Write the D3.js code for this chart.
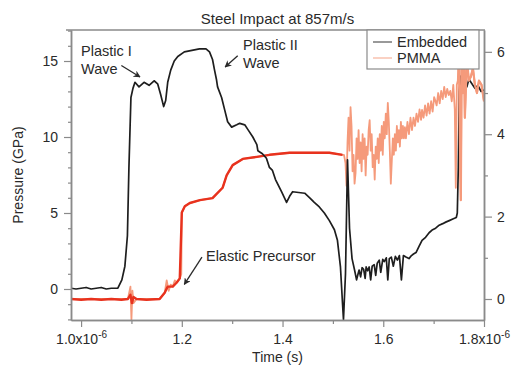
<!DOCTYPE html>
<html>
<head>
<meta charset="utf-8">
<script src="https://cdn.jsdelivr.net/npm/d3@7/dist/d3.min.js"></script>
<style>
  html, body { margin: 0; padding: 0; background: #fff; }
  svg { display: block; font-family: "Liberation Sans", Arial, Helvetica, sans-serif; }
</style>
</head>
<body>
<svg id="chart" width="515" height="365"></svg>
<script>
// Samples are [time (10^-6 s), value].
// Embedded gauge pressure, GPa (left axis)
const embedded = [
  [0.980, 0.05], [0.990, 0.0], [1.000, 0.05], [1.010, 0.1], [1.020, 0.0], [1.030, 0.05], [1.040, 0.1], [1.050, 0.0],
  [1.060, 0.05], [1.073, 0.05], [1.081, 0.6], [1.087, 1.5], [1.092, 3.5], [1.095, 8.0], [1.099, 12.6], [1.103, 13.2],
  [1.107, 13.6], [1.115, 13.3], [1.125, 13.6], [1.135, 13.4], [1.145, 13.7], [1.152, 13.5], [1.158, 12.8], [1.164, 12.0],
  [1.168, 12.4], [1.172, 13.6], [1.178, 14.4], [1.185, 15.0], [1.192, 15.3], [1.205, 15.6], [1.220, 15.7], [1.235, 15.8],
  [1.248, 15.8], [1.255, 15.6], [1.261, 15.1], [1.265, 14.4], [1.269, 13.75], [1.271, 13.3], [1.279, 12.6], [1.285, 11.8],
  [1.291, 11.0], [1.299, 10.65], [1.309, 10.8], [1.315, 10.9], [1.325, 10.8], [1.331, 10.5], [1.341, 10.0], [1.349, 9.5],
  [1.351, 9.1], [1.360, 8.9], [1.368, 8.6], [1.374, 8.0], [1.380, 7.8], [1.386, 7.2], [1.398, 6.4], [1.408, 5.7],
  [1.414, 6.1], [1.420, 6.4], [1.432, 6.35], [1.444, 6.3], [1.454, 6.0], [1.463, 5.7], [1.473, 5.4], [1.483, 5.0],
  [1.493, 4.5], [1.503, 3.9], [1.509, 3.2], [1.515, 1.45], [1.519, -0.9], [1.521, -2.0], [1.525, 1.0], [1.529, 8.5],
  [1.533, 4.0], [1.538, 2.0], [1.543, 1.25], [1.547, 0.6], [1.550, 1.0], [1.552, 1.25], [1.555, 0.8], [1.558, 1.4],
  [1.561, 1.3], [1.564, 0.7], [1.566, 1.45], [1.569, 1.2], [1.572, 1.45], [1.575, 0.6], [1.578, 1.5], [1.582, 1.6],
  [1.585, 0.9], [1.588, 1.7], [1.592, 1.9], [1.595, 1.1], [1.599, 1.95], [1.602, 1.8], [1.606, 2.05], [1.609, 0.6],
  [1.612, 2.0], [1.616, 2.1], [1.620, 1.5], [1.624, 2.15], [1.628, 1.9], [1.632, 2.2], [1.636, 0.6], [1.640, 2.2],
  [1.645, 2.1], [1.651, 2.0], [1.656, 2.2], [1.660, 2.3], [1.665, 2.4], [1.671, 2.8], [1.677, 3.2], [1.684, 3.4],
  [1.691, 3.7], [1.698, 3.9], [1.704, 4.0], [1.711, 4.2], [1.718, 4.3], [1.724, 4.4], [1.731, 4.5], [1.738, 4.6],
  [1.745, 4.7], [1.747, 5.0], [1.749, 8.0], [1.751, 13.0], [1.754, 14.0], [1.758, 13.6], [1.762, 14.1], [1.766, 13.3],
  [1.770, 13.8], [1.776, 13.5], [1.782, 13.2], [1.788, 13.4], [1.794, 13.0], [1.800, 13.1]
];

// PMMA gauge, smoothed trace (right axis)
const pmmaSmooth = [
  [0.980, 0.0], [1.000, -0.02], [1.020, 0.0], [1.040, -0.02], [1.060, 0.0], [1.080, -0.02], [1.093, 0.0], [1.098, 0.1],
  [1.101, -0.1], [1.104, 0.05], [1.110, 0.0], [1.130, -0.02], [1.156, 0.0], [1.166, 0.15], [1.172, 0.3], [1.182, 0.3],
  [1.190, 0.4], [1.196, 0.5], [1.200, 2.1], [1.206, 2.25], [1.216, 2.33], [1.236, 2.4], [1.261, 2.45], [1.281, 2.7],
  [1.289, 3.0], [1.301, 3.25], [1.321, 3.4], [1.349, 3.45], [1.374, 3.5], [1.414, 3.55], [1.454, 3.55], [1.493, 3.55],
  [1.519, 3.5]
];

// PMMA gauge, raw trace (right axis)
const pmmaRaw = [
  [0.980, 0.0], [1.093, 0.0], [1.098, 0.3], [1.100, -0.5], [1.102, 0.2], [1.104, -0.1], [1.110, 0.0], [1.156, 0.0],
  [1.166, 0.15], [1.170, 0.45], [1.174, 0.2], [1.178, 0.35], [1.182, 0.3], [1.186, 0.45], [1.190, 0.4], [1.196, 0.5],
  [1.199, 0.6], [1.200, 2.1], [1.206, 2.25], [1.216, 2.33], [1.236, 2.4], [1.261, 2.45], [1.281, 2.7], [1.289, 3.0],
  [1.301, 3.25], [1.321, 3.4], [1.349, 3.45], [1.374, 3.5], [1.414, 3.55], [1.454, 3.55], [1.493, 3.55], [1.519, 3.5],
  [1.522, 3.5], [1.525, 3.3], [1.527, 2.75], [1.529, 3.8], [1.531, 4.4], [1.533, 3.6], [1.535, 4.66], [1.537, 4.2],
  [1.539, 3.1], [1.541, 3.5], [1.543, 2.8], [1.545, 3.06], [1.547, 3.9], [1.549, 3.4], [1.551, 4.1], [1.553, 3.3],
  [1.555, 3.8], [1.557, 3.1], [1.559, 4.0], [1.561, 3.4], [1.563, 3.9], [1.565, 3.0], [1.567, 3.7], [1.569, 3.5],
  [1.571, 4.1], [1.573, 4.34], [1.575, 3.6], [1.577, 4.0], [1.579, 3.2], [1.581, 3.5], [1.583, 2.9], [1.585, 3.7],
  [1.587, 3.4], [1.589, 3.9], [1.591, 3.3], [1.593, 4.0], [1.595, 3.6], [1.597, 4.2], [1.599, 3.5], [1.601, 4.3],
  [1.603, 3.9], [1.605, 4.5], [1.607, 4.0], [1.609, 4.76], [1.611, 4.3], [1.613, 3.6], [1.615, 2.8], [1.617, 3.37],
  [1.619, 3.9], [1.621, 3.5], [1.623, 4.0], [1.625, 3.6], [1.627, 4.2], [1.629, 3.8], [1.631, 4.1], [1.633, 3.7],
  [1.635, 4.3], [1.637, 3.9], [1.639, 4.2], [1.641, 3.9], [1.643, 4.17], [1.645, 3.9], [1.648, 4.3], [1.651, 4.0],
  [1.654, 4.4], [1.657, 4.1], [1.660, 4.4], [1.663, 4.2], [1.666, 4.5], [1.669, 4.3], [1.672, 4.6], [1.675, 4.35],
  [1.677, 4.59], [1.680, 4.4], [1.683, 4.7], [1.686, 4.45], [1.689, 4.75], [1.692, 4.5], [1.695, 4.8], [1.698, 4.55],
  [1.701, 4.9], [1.703, 4.83], [1.706, 4.7], [1.709, 5.0], [1.712, 4.75], [1.715, 5.05], [1.718, 4.85], [1.721, 5.15],
  [1.724, 4.9], [1.727, 5.1], [1.730, 4.95], [1.733, 5.05], [1.736, 4.8], [1.739, 5.2], [1.742, 4.6], [1.744, 2.7],
  [1.746, 5.2], [1.748, 5.3], [1.750, 6.3], [1.752, 4.0], [1.754, 2.4], [1.756, 6.5], [1.758, 5.0], [1.760, 6.2],
  [1.762, 4.4], [1.766, 5.8], [1.770, 5.3], [1.774, 5.4], [1.778, 5.6], [1.782, 5.2], [1.786, 5.0], [1.790, 5.3],
  [1.795, 5.2], [1.800, 4.8]
];

// Axis ticks
const timeMajor = [1.0, 1.2, 1.4, 1.6, 1.8];
const timeMinor = [1.1, 1.3, 1.5, 1.7];
const gpaMajor = [0, 5, 10, 15];
const gpaMinor = d3.range(-2, 18, 1).filter(v => v % 5 !== 0);
const rightMajor = [0, 2, 4, 6];
const rightMinor = [1, 3, 5];

const seriesNames = ["Embedded", "PMMA"];

// Text callouts: label lines at (t, p), arrow from tail to head, all in data units (left axis)
const callouts = [
  { lines: ["Plastic I", "Wave"], t: 1.0, p: 15.3, tail: [1.080, 14.7], head: [1.117, 13.95] },
  { lines: ["Plastic II", "Wave"], t: 1.3215, p: 15.75, tail: [1.311, 15.35], head: [1.286, 14.6] },
  { lines: ["Elastic Precursor"], t: 1.248, p: 1.85, tail: [1.240, 2.1], head: [1.205, 0.3] }
];

const svg = d3.select("#chart");
const plotLeft = 71, plotRight = 484, plotTop = 30, plotBottom = 320;

const x = d3.scaleLinear().domain([0.98, 1.80]).range([plotLeft, plotRight]);
const yL = d3.scaleLinear().domain([-2.04, 17.04]).range([plotBottom, plotTop]);
const yR = d3.scaleLinear().domain([-0.51, 6.53]).range([plotBottom, plotTop]);

const axisColor = "#8a8a8a";
const textColor = "#2a2a2a";
const rawColor = "#f59a7b";

const defs = svg.append("defs");
defs.append("clipPath").attr("id", "plot")
  .append("rect").attr("x", plotLeft).attr("y", plotTop)
  .attr("width", plotRight - plotLeft).attr("height", plotBottom - plotTop);

const marker = defs.append("marker")
  .attr("id", "arrow").attr("viewBox", "0 0 10 10").attr("refX", 9).attr("refY", 5)
  .attr("markerWidth", 7).attr("markerHeight", 7).attr("orient", "auto-start-reverse")
  .attr("markerUnits", "userSpaceOnUse");
marker.append("path").attr("d", "M0,0 L10,5 L0,10 L3,5 Z").attr("fill", textColor);

// Title
svg.append("text").attr("x", (plotLeft + plotRight) / 2).attr("y", 24)
  .attr("text-anchor", "middle").attr("font-size", 15).attr("fill", textColor)
  .text("Steel Impact at 857m/s");

// Traces
const plot = svg.append("g").attr("clip-path", "url(#plot)");
const lineR = d3.line().x(d => x(d[0])).y(d => yR(d[1]));
const lineL = d3.line().x(d => x(d[0])).y(d => yL(d[1]));

plot.append("path").datum(pmmaRaw)
  .attr("fill", "none").attr("stroke", rawColor).attr("stroke-width", 1.8).attr("stroke-linejoin", "round")
  .attr("d", lineR);

plot.append("path").datum(pmmaSmooth)
  .attr("fill", "none").attr("stroke", "#e8321e").attr("stroke-width", 2.4).attr("stroke-linejoin", "round")
  .attr("d", lineR);

plot.append("path").datum(embedded)
  .attr("fill", "none").attr("stroke", "#1e1e1e").attr("stroke-width", 1.7).attr("stroke-linejoin", "round")
  .attr("d", lineL);

// Late PMMA record drawn over the embedded trace
plot.append("path").datum(pmmaRaw.filter(d => d[0] >= 1.75))
  .attr("fill", "none").attr("stroke", rawColor).attr("stroke-width", 2.2).attr("stroke-linejoin", "round")
  .attr("d", lineR);

// Top frame line
svg.append("line").attr("x1", plotLeft - 5).attr("x2", plotRight + 1).attr("y1", plotTop).attr("y2", plotTop)
  .attr("stroke", axisColor).attr("stroke-width", 1.5);

function styleAxis(g) {
  g.select(".domain").attr("stroke", axisColor).attr("stroke-width", 1.5);
  g.selectAll(".tick line").attr("stroke", axisColor).attr("stroke-width", 1.2);
  g.selectAll(".tick text").attr("fill", textColor).attr("font-size", 14)
    .attr("font-family", "'Liberation Sans', Arial, sans-serif");
}

// Minor ticks
svg.append("g").attr("transform", `translate(0,${plotBottom})`)
  .call(d3.axisBottom(x).tickValues(timeMinor).tickSize(4).tickFormat("").tickSizeOuter(0))
  .call(styleAxis);
svg.append("g").attr("transform", `translate(${plotLeft},0)`)
  .call(d3.axisLeft(yL).tickValues(gpaMinor).tickSize(3).tickFormat("").tickSizeOuter(0))
  .call(styleAxis);
svg.append("g").attr("transform", `translate(${plotRight},0)`)
  .call(d3.axisRight(yR).tickValues(rightMinor).tickSize(4).tickFormat("").tickSizeOuter(0))
  .call(styleAxis);

// Major ticks
const gx = svg.append("g").attr("transform", `translate(0,${plotBottom})`)
  .call(d3.axisBottom(x).tickValues(timeMajor).tickSize(7).tickSizeOuter(0).tickPadding(7)
    .tickFormat(d => (d === 1.0 || d === 1.8) ? "" : d3.format(".1f")(d)))
  .call(styleAxis);
gx.selectAll(".tick").filter(d => d === 1.0 || d === 1.8).select("text")
  .each(function(d) {
    const t = d3.select(this);
    t.append("tspan").text(d3.format(".1f")(d) + "x10");
    t.append("tspan").attr("dy", "-0.55em").attr("font-size", 10).text("-6");
  });

svg.append("g").attr("transform", `translate(${plotLeft},0)`)
  .call(d3.axisLeft(yL).tickValues(gpaMajor).tickSize(7).tickSizeOuter(0).tickPadding(6))
  .call(styleAxis);
svg.append("g").attr("transform", `translate(${plotRight},0)`)
  .call(d3.axisRight(yR).tickValues(rightMajor).tickSize(8).tickSizeOuter(0).tickPadding(5)
    .tickFormat(d3.format("d")))
  .call(styleAxis);

// Axis titles
svg.append("text").attr("x", (plotLeft + plotRight) / 2).attr("y", 362)
  .attr("text-anchor", "middle").attr("font-size", 14).attr("fill", textColor).text("Time (s)");
svg.append("text").attr("transform", `translate(23,${(plotTop + plotBottom) / 2}) rotate(-90)`)
  .attr("text-anchor", "middle").attr("font-size", 14).attr("fill", textColor).text("Pressure (GPa)");

// Callouts
callouts.forEach(c => {
  const txt = svg.append("text").attr("font-size", 14.5).attr("fill", textColor);
  c.lines.forEach((ln, i) => {
    txt.append("tspan").attr("x", x(c.t)).attr("y", yL(c.p) + i * 18).text(ln);
  });
  svg.append("line")
    .attr("x1", x(c.tail[0])).attr("y1", yL(c.tail[1]))
    .attr("x2", x(c.head[0])).attr("y2", yL(c.head[1]))
    .attr("stroke", textColor).attr("stroke-width", 1.3).attr("marker-end", "url(#arrow)");
});

// Legend
const lg = svg.append("g").attr("transform", "translate(367,30)");
lg.append("rect").attr("width", 112).attr("height", 39)
  .attr("fill", "#fff").attr("stroke", axisColor).attr("stroke-width", 1.2);
const legendColors = ["#555", "#f7b29a"];
seriesNames.forEach((name, i) => {
  const yy = 12 + i * 16;
  lg.append("line").attr("x1", 6).attr("x2", 25).attr("y1", yy).attr("y2", yy)
    .attr("stroke", legendColors[i]).attr("stroke-width", 1.2);
  lg.append("text").attr("x", 30).attr("y", yy + 5).attr("font-size", 14.5).attr("fill", textColor).text(name);
});
</script>
</body>
</html>
